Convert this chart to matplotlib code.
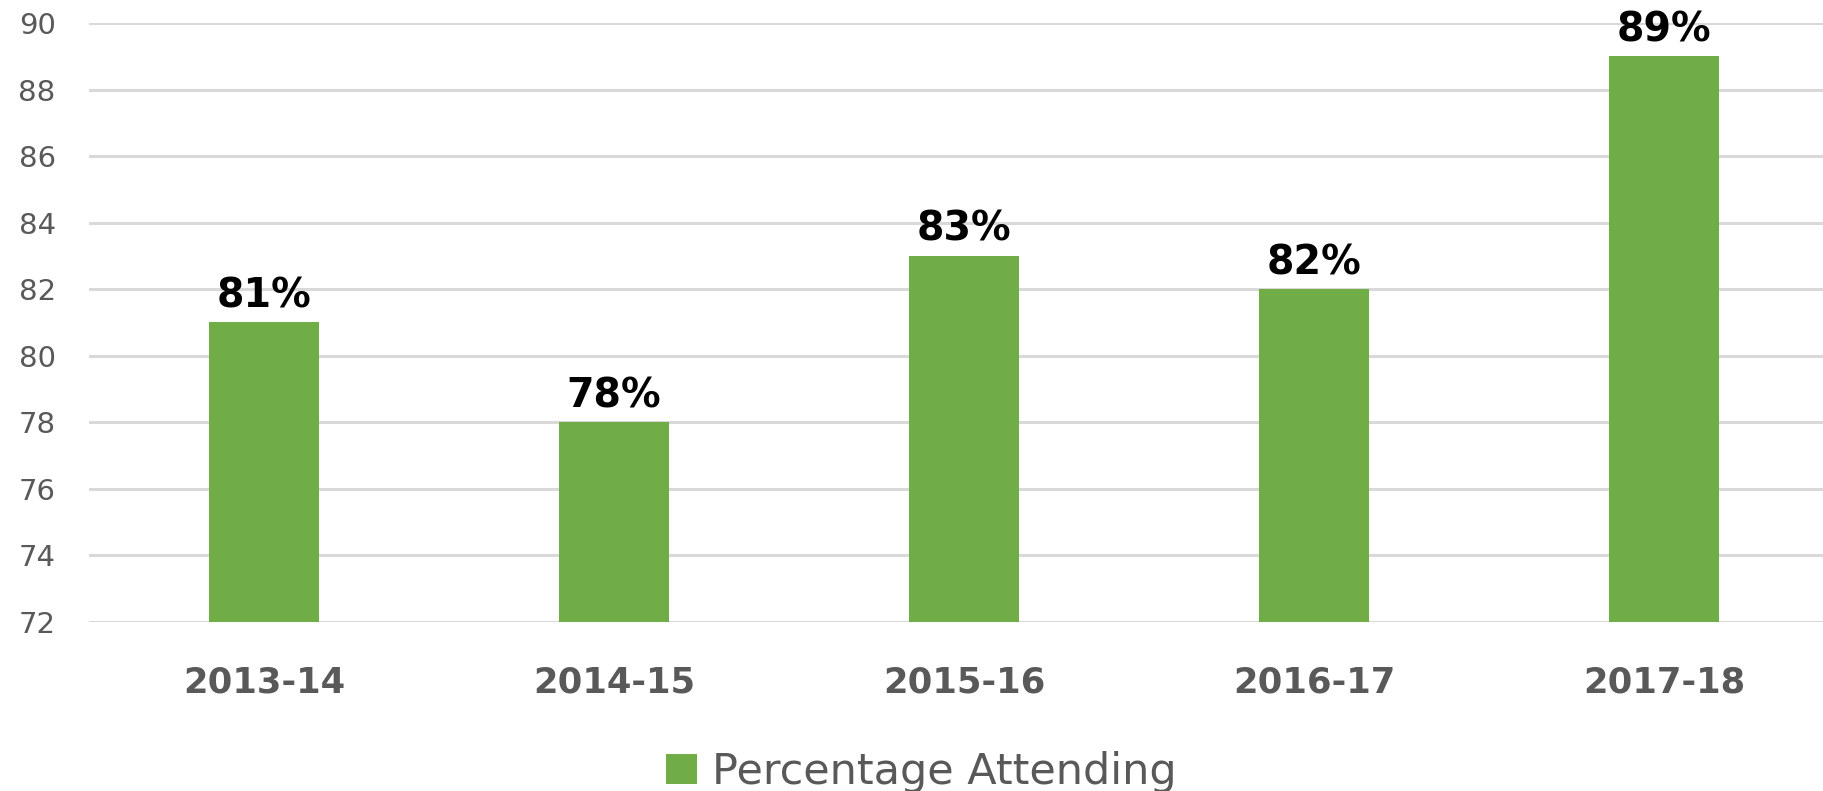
import matplotlib.pyplot as plt

seasons = ['2013-14', '2014-15', '2015-16', '2016-17', '2017-18']
attending = [81, 78, 83, 82, 89]
yticks = [72, 74, 76, 78, 80, 82, 84, 86, 88, 90]

plt.rcParams['font.family'] = ['DejaVu Sans']

fig = plt.figure(figsize=(18.24, 7.91), dpi=100)
W, H = 1824, 791
left, right = 89, 1824
top, bottom = 23, 622
ax = fig.add_axes([left / W, 1 - bottom / H, (right - left) / W, (bottom - top) / H])

x = range(len(seasons))
bars = ax.bar(x, [v - 72 for v in attending], bottom=72, width=0.315, color='#70ad47',
              zorder=3, label='Percentage Attending')

# value labels above the bars
for xi, v in zip(x, attending):
    ax.text(xi, v + 0.45, f'{v}%', ha='center', va='baseline', fontsize=28.5,
            fontweight='bold', color='black', zorder=4)

ax.set_ylim(72, 90)
ax.set_xlim(-0.5, -0.5 + (right - left) / 350)
ax.set_yticks(yticks)
ax.yaxis.grid(True, color='#d9d9d9', linewidth=2.2, zorder=0)
ax.set_xticks(list(x))
ax.set_xticklabels(seasons, fontsize=25.5, fontweight='bold', color='#595959')
for lab in ax.get_yticklabels():
    lab.set_fontsize(21)
    lab.set_color('#595959')
ax.tick_params(axis='both', length=0)
ax.tick_params(axis='x', pad=31)
ax.tick_params(axis='y', pad=24)
for s in ax.spines.values():
    s.set_visible(False)

fig.legend(loc='center', bbox_to_anchor=(921 / W, 1 - 772 / H), frameon=False,
           fontsize=31, labelcolor='#595959',
           handlelength=0.72, handleheight=0.72, handletextpad=0.35)

fig.savefig('out.png', dpi=100)
